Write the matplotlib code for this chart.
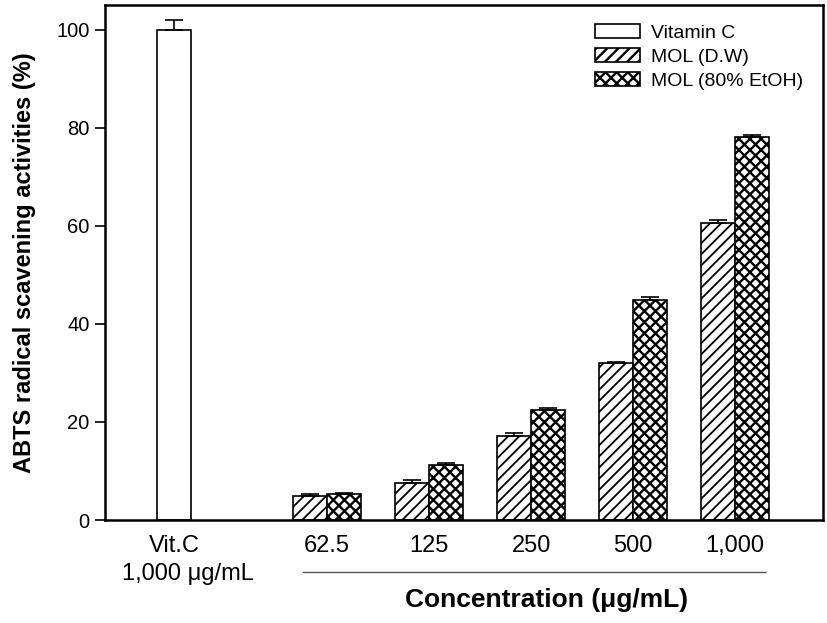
import matplotlib
matplotlib.use("Agg")
import matplotlib.pyplot as plt
from matplotlib.transforms import offset_copy
import numpy as np

plt.rcParams['font.family'] = ['Liberation Sans', 'DejaVu Sans']

# Data
vitc_label = "Vit.C"
vitc_sublabel = "1,000 \u03bcg/mL"
vitc_value = 100.0
vitc_err = 2.0
concentrations = ["62.5", "125", "250", "500", "1,000"]
mol_dw = [4.9, 7.6, 17.1, 32.0, 60.6]
mol_dw_err = [0.3, 0.5, 0.7, 0.3, 0.5]
mol_etoh = [5.3, 11.3, 22.5, 44.8, 78.1]
mol_etoh_err = [0.3, 0.3, 0.3, 0.7, 0.4]
series_names = ["Vitamin C", "MOL (D.W)", "MOL (80% EtOH)"]

fig = plt.figure(figsize=(8.27, 6.23), dpi=100)
ax = fig.add_axes([105/827, 1 - 520/623, (823-105)/827, (520-5)/623])

w = 0.333
x_vit = 0.0
xg = np.arange(len(concentrations)) + 1.5

ek = dict(ecolor='black', capsize=6.5, elinewidth=1.2, capthick=1.2)
plt.rcParams['hatch.linewidth'] = 1.0
ax.bar(x_vit, vitc_value, w, color='white', edgecolor='black', linewidth=1.2,
       yerr=[[0], [vitc_err]], error_kw=ek, label=series_names[0])
plt.rcParams['hatch.linewidth'] = 1.3
ax.bar(xg - w/2, mol_dw, w, color='white', edgecolor='black', linewidth=1.2,
       hatch='///', yerr=[np.zeros(len(mol_dw)), mol_dw_err], error_kw=ek,
       label=series_names[1])
plt.rcParams['hatch.linewidth'] = 1.7
ax.bar(xg + w/2, mol_etoh, w, color='white', edgecolor='black', linewidth=1.2,
       hatch='xxx', yerr=[np.zeros(len(mol_etoh)), mol_etoh_err], error_kw=ek,
       label=series_names[2])

ax.set_xlim(-0.676, 6.36)
ax.set_ylim(0, 105)
ax.set_yticks([0, 20, 40, 60, 80, 100])
ax.tick_params(axis='y', direction='out', length=7, width=1.2, labelsize=14.5, pad=4)
ax.set_xticks([x_vit] + list(xg))
ax.set_xticklabels([vitc_label] + concentrations, fontsize=17)
ax.tick_params(axis='x', length=0, pad=11)
for s in ax.spines.values():
    s.set_linewidth(1.8)

# second line of the Vit.C label (slightly offset to the right as in the original)
tr = offset_copy(ax.get_xaxis_transform(), fig=fig, x=14, y=-54, units='dots')
ax.text(x_vit, 0, vitc_sublabel, transform=tr, ha='center', va='center',
        fontsize=17, clip_on=False)

ax.set_ylabel("ABTS radical scavening activities (%)", fontsize=17,
              fontweight='bold', labelpad=15)

# underline and x label for the concentration groups
ax.annotate('', xy=(xg[0] - 0.26, -10.7), xytext=(xg[-1] + 0.33, -10.7),
            xycoords='data', annotation_clip=False,
            arrowprops=dict(arrowstyle='-', color='#555555', lw=1))
ax.text((xg[0] + xg[-1]) / 2 + 0.15, -16.3, "Concentration (\u03bcg/mL)",
        ha='center', va='center', fontsize=19, fontweight='bold', clip_on=False)

leg = ax.legend(loc='upper right', bbox_to_anchor=(0.997, 0.998), frameon=False,
                fontsize=14, handlelength=2.3, handleheight=0.8,
                labelspacing=0.3, handletextpad=0.6)

fig.savefig("out.png", dpi=100)
